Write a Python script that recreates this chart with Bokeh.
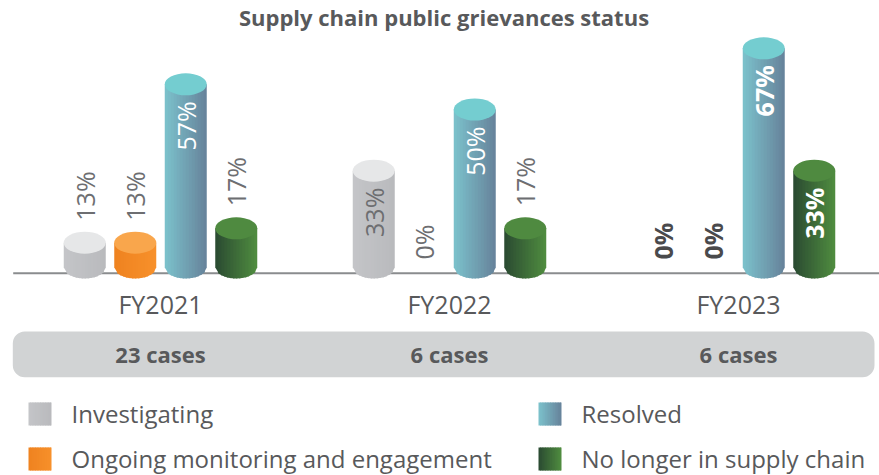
import math
from bokeh.plotting import figure
from bokeh.models import Range1d, BoxAnnotation, ColumnDataSource
from bokeh.core.properties import value
from bokeh.embed import file_html
from bokeh.resources import INLINE

# ---------------- data ----------------
years = ["FY2021", "FY2022", "FY2023"]
case_labels = ["23 cases", "6 cases", "6 cases"]
status_names = ["Investigating", "Ongoing monitoring and engagement",
                "Resolved", "No longer in supply chain"]
investigating = [13, 33, 0]
ongoing = [13, 0, 0]
resolved = [57, 50, 67]
no_longer = [17, 17, 33]
series = [investigating, ongoing, resolved, no_longer]
title_text = "Supply chain public grievances status"

# ---------------- styles ----------------
BODY = [("#c4c5c8", "#b9babd"), ("#ef8220", "#f7912b"),
        ("#7cc2cc", "#66829a"), ("#2a4a31", "#508d40")]
TOP = ["#e6e7e8", "#f9a64c", "#74cdd0", "#4f8a40"]
TXT = "#58595b"
LBL = "#6d6e71"
FONT = value("Open Sans")

W, H = 879, 475
PX = 3.6          # pixels per percent
Y0_IMG = 278      # page row of value 0
BW = 42           # cylinder width (px)
EH = 22           # ellipse height (px)
SP = 50.5         # spacing between bars in a group
GX0, GAP = 160, 289
NS = 14           # gradient strips
OVL = 1.0         # strip overlap to hide seams


def Y(img):
    return (Y0_IMG - img) / PX


def lerp(c1, c2, t):
    a = [int(c1[i:i + 2], 16) for i in (1, 3, 5)]
    b = [int(c2[i:i + 2], 16) for i in (1, 3, 5)]
    return "#%02x%02x%02x" % tuple(round(a[k] + (b[k] - a[k]) * t) for k in range(3))


p = figure(width=W, height=H, x_range=Range1d(0, W), y_range=Range1d(Y(H), Y(0)),
           output_backend="svg", toolbar_location=None, min_border=0,
           x_axis_type=None, y_axis_type=None)
p.grid.visible = False
p.outline_line_color = None
p.background_fill_color = "white"
p.border_fill_color = "white"

# title
p.text(x=[443.5], y=[Y(16)], text=[title_text], text_font=FONT, text_font_size=value("22px"),
       text_font_style="bold", text_color=TXT, text_align="center", text_baseline="alphabetic")

# baseline
p.segment(x0=[12.7], y0=[Y(272.7)], x1=[W], y1=[Y(272.7)], line_color="#8a8c8e", line_width=2)

GX = [GX0 + i * GAP for i in range(len(years))]
EHd = EH / PX
a = BW / 2

sx, sy, sc = [], [], []
tx, ty, tc = [], [], []
lab = {"left": dict(x=[], y=[], t=[], c=[], s=[]), "right": dict(x=[], y=[], t=[], c=[], s=[])}

for i, yr in enumerate(years):
    bold = "bold" if yr == years[-1] else "normal"
    for j, s in enumerate(series):
        v = s[i]
        cx = GX[i] + (j - 1.5) * SP
        if v > 0:
            yt = v - EHd / 2
            yb = EHd / 2
            for k in range(NS):
                xl = -a + k * BW / NS
                xr = min(a, xl + BW / NS + (OVL if k < NS - 1 else 0))
                bl = yb - (EHd / 2) * math.sqrt(max(0.0, 1 - (xl / a) ** 2))
                br = yb - (EHd / 2) * math.sqrt(max(0.0, 1 - (xr / a) ** 2))
                sx.append([cx + xl, cx + xr, cx + xr, cx + xl])
                sy.append([yt, yt, br, bl])
                sc.append(lerp(BODY[j][0], BODY[j][1], (k + 0.5) / NS))
            tx.append(cx); ty.append(yt); tc.append(TOP[j])
        txt = f"{v}%"
        if v == 0:
            d = lab["left"]; d["y"].append(19 / PX)
            d["c"].append("#4a4a4c" if bold == "bold" else LBL)
        elif v >= 25:
            d = lab["right"]; d["y"].append(v - 28 / PX)
            d["c"].append("white" if j >= 2 else LBL)
        else:
            d = lab["left"]; d["y"].append(v + 11 / PX)
            d["c"].append(LBL)
        d["x"].append(cx); d["t"].append(txt); d["s"].append(bold)

p.patches(xs=sx, ys=sy, fill_color=sc, line_color=None)
p.ellipse(x=tx, y=ty, width=BW, height=EH, height_units="screen", fill_color=tc, line_color=None)

for align, d in lab.items():
    src = ColumnDataSource(d)
    p.text(x="x", y="y", text="t", source=src, angle=math.pi / 2, text_color="c",
           text_font_style="s", text_font=FONT, text_font_size=value("25px"),
           text_align=align, text_baseline="middle")

# year labels
p.text(x=GX, y=[Y(303)] * len(years), text=years, text_font=FONT, text_font_size=value("25px"),
       text_color=TXT, text_align="center", text_baseline="alphabetic")

# cases band
band = BoxAnnotation(left=12.3, right=874, top=Y(331), bottom=Y(376.7), fill_color="#d1d3d4",
                     fill_alpha=1, line_alpha=0, border_radius=12, level="underlay")
p.add_layout(band)
p.text(x=GX, y=[Y(353)] * len(years), text=case_labels, text_font=FONT,
       text_font_size=value("22px"), text_font_style="bold", text_color=TXT,
       text_align="center", text_baseline="alphabetic")

# legend
LEG_X = [28, 28, 538, 538]
LEG_ROW = [0, 1, 0, 1]
ROW_TOP = [402, 447]
SQ = 23
lx, ly, lc = [], [], []
for j in range(len(status_names)):
    x0 = LEG_X[j]
    top = ROW_TOP[LEG_ROW[j]]
    for k in range(NS):
        xl = x0 + k * SQ / NS
        xr = min(x0 + SQ, xl + SQ / NS + (OVL if k < NS - 1 else 0))
        lx.append([xl, xr, xr, xl])
        ly.append([Y(top), Y(top), Y(top + SQ), Y(top + SQ)])
        lc.append(lerp(BODY[j][0], BODY[j][1], (k + 0.5) / NS))
p.patches(xs=lx, ys=ly, fill_color=lc, line_color=None)
p.text(x=[LEG_X[j] + 43 for j in range(4)], y=[Y(ROW_TOP[LEG_ROW[j]] + 11) for j in range(4)],
       text=status_names, text_font=FONT, text_font_size=value("24px"), text_color=TXT,
       text_align="left", text_baseline="alphabetic")

open("out.html", "w").write(file_html(p, INLINE))
